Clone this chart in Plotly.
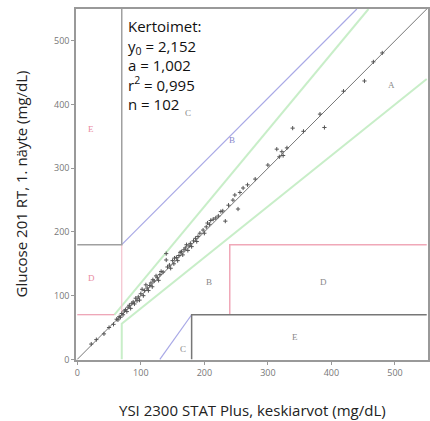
import plotly.graph_objects as go

# Reference (YSI) values and meter (Glucose 201 RT) values, mg/dL
ysi = [22, 30, 42, 50, 57, 62, 64, 66, 68, 70, 72, 74, 76, 78, 80, 82, 84, 86, 88, 90,
       92, 94, 96, 98, 100, 102, 104, 106, 108, 110, 112, 114, 116, 118, 119, 121, 124, 126,
       128, 130, 132, 135, 140, 140, 142, 145, 147, 150, 152, 153, 156, 158, 160, 162, 164,
       166, 168, 170, 172, 174, 176, 178, 180, 183, 186, 188, 190, 193, 198, 200, 203, 205,
       208, 210, 214, 218, 222, 226, 229, 233, 238, 245, 248, 253, 256, 261, 268, 280, 300,
       314, 318, 322, 324, 330, 339, 356, 382, 389, 419, 452, 466, 480]
meter = [24, 31, 40, 50, 55, 63, 62, 67, 66, 72, 70, 76, 78, 75, 82, 85, 80, 88, 90, 87,
         96, 92, 98, 93, 103, 110, 100, 108, 117, 112, 108, 116, 120, 114, 125, 123, 131, 128,
         124, 133, 138, 137, 166, 156, 145, 148, 143, 155, 150, 159, 160, 155, 163, 168, 169,
         164, 172, 175, 180, 171, 178, 182, 177, 186, 190, 185, 193, 198, 203, 198, 208, 214,
         212, 218, 220, 222, 225, 232, 233, 217, 242, 250, 258, 236, 262, 269, 274, 283, 305,
         330, 318, 326, 320, 332, 363, 358, 385, 364, 421, 437, 467, 481]

zone_labels = ["A", "B", "B", "C", "C", "D", "D", "E", "E"]
zone_x = [495, 243, 208, 174, 166, 22, 387, 22, 342]
zone_y = [430, 344, 121, 386, 17, 127, 122, 362, 35]
zone_colors = ["#888888", "#8888cc", "#888888", "#888888", "#888888", "#e88aa0", "#888888", "#e88aa0", "#888888"]

stats_text = "Kertoimet:<br>y<sub>0</sub> = 2,152<br>a = 1,002<br>r<sup>2</sup> = 0,995<br>n = 102"
x_title = "YSI 2300 STAT Plus, keskiarvot (mg/dL)"
y_title = "Glucose 201 RT, 1. näyte (mg/dL)"

x_ticks = [0, 100, 200, 300, 400, 500]
y_ticks = [0, 100, 200, 300, 400, 500]

fig = go.Figure()

def seg(xs, ys, color, width=1.2):
    fig.add_trace(go.Scatter(x=xs, y=ys, mode="lines", line=dict(color=color, width=width),
                             hoverinfo="skip", showlegend=False))

# identity line
seg([0, 550], [0, 550], "#777777", 1)
# zone A boundaries (green)
seg([58.33, 458.33], [70, 550], "#c8eec8", 2)
seg([70, 70, 550], [0, 56, 440], "#c8eec8", 2)
# zone B/C boundaries (purple)
seg([70, 440], [180, 550], "#a8a8e6", 1.2)
seg([130, 180], [0, 70], "#a8a8e6", 1.2)
# zone D (pink)
seg([0, 58.33], [70, 70], "#e88aa0", 1.2)
seg([70, 70], [70, 180], "#f2c0cc", 1.2)
seg([240, 240, 550], [70, 180, 180], "#f0a8b8", 1.5)
# zone E (grey)
seg([0, 70, 70], [180, 180, 550], "#a0a0a0", 1.5)
seg([180, 180, 550], [0, 70, 70], "#777777", 1.5)

fig.add_trace(go.Scatter(x=ysi, y=meter, mode="markers",
                         marker=dict(symbol="cross-thin", size=3, line=dict(color="#555555", width=1)),
                         showlegend=False))

for t, x, y, c in zip(zone_labels, zone_x, zone_y, zone_colors):
    fig.add_annotation(x=x, y=y, text=t, showarrow=False,
                       font=dict(family="Liberation Serif", size=9, color=c))

fig.add_annotation(xref="paper", yref="paper", x=0.142, y=0.985, xanchor="left", yanchor="top",
                   text=stats_text, showarrow=False, align="left",
                   font=dict(family="Open Sans", size=15, color="#111111"))

fig.add_annotation(xref="paper", yref="paper", x=0.5, y=0, yshift=-50, xanchor="center", yanchor="middle",
                   text=x_title, showarrow=False,
                   font=dict(family="Open Sans", size=15, color="#222222"))
fig.add_annotation(xref="paper", yref="paper", x=0, y=0.5, xshift=-56, xanchor="center", yanchor="middle",
                   text=y_title, showarrow=False, textangle=-90,
                   font=dict(family="Open Sans", size=15, color="#222222"))

fig.update_layout(
    width=430, height=421,
    margin=dict(l=76, r=2, t=9, b=61, autoexpand=False),
    paper_bgcolor="white", plot_bgcolor="white",
    font=dict(family="Open Sans"),
)
fig.update_xaxes(range=[-2, 552], tickvals=x_ticks, ticks="outside", ticklen=3, tickcolor="#999999",
                 showgrid=False, zeroline=False, showline=True, linecolor="#999999", linewidth=1.5, mirror=True,
                 tickfont=dict(size=9, color="#777777"), automargin=False)
fig.update_yaxes(range=[-1, 550], tickvals=y_ticks, ticks="outside", ticklen=3, tickcolor="#999999",
                 showgrid=False, zeroline=False, showline=True, linecolor="#999999", linewidth=1.5, mirror=True,
                 tickfont=dict(size=9, color="#777777"), automargin=False)

fig.write_html("out.html", config={"displayModeBar": False},
               post_script="document.body.style.margin='0';document.body.style.overflow='hidden';")
